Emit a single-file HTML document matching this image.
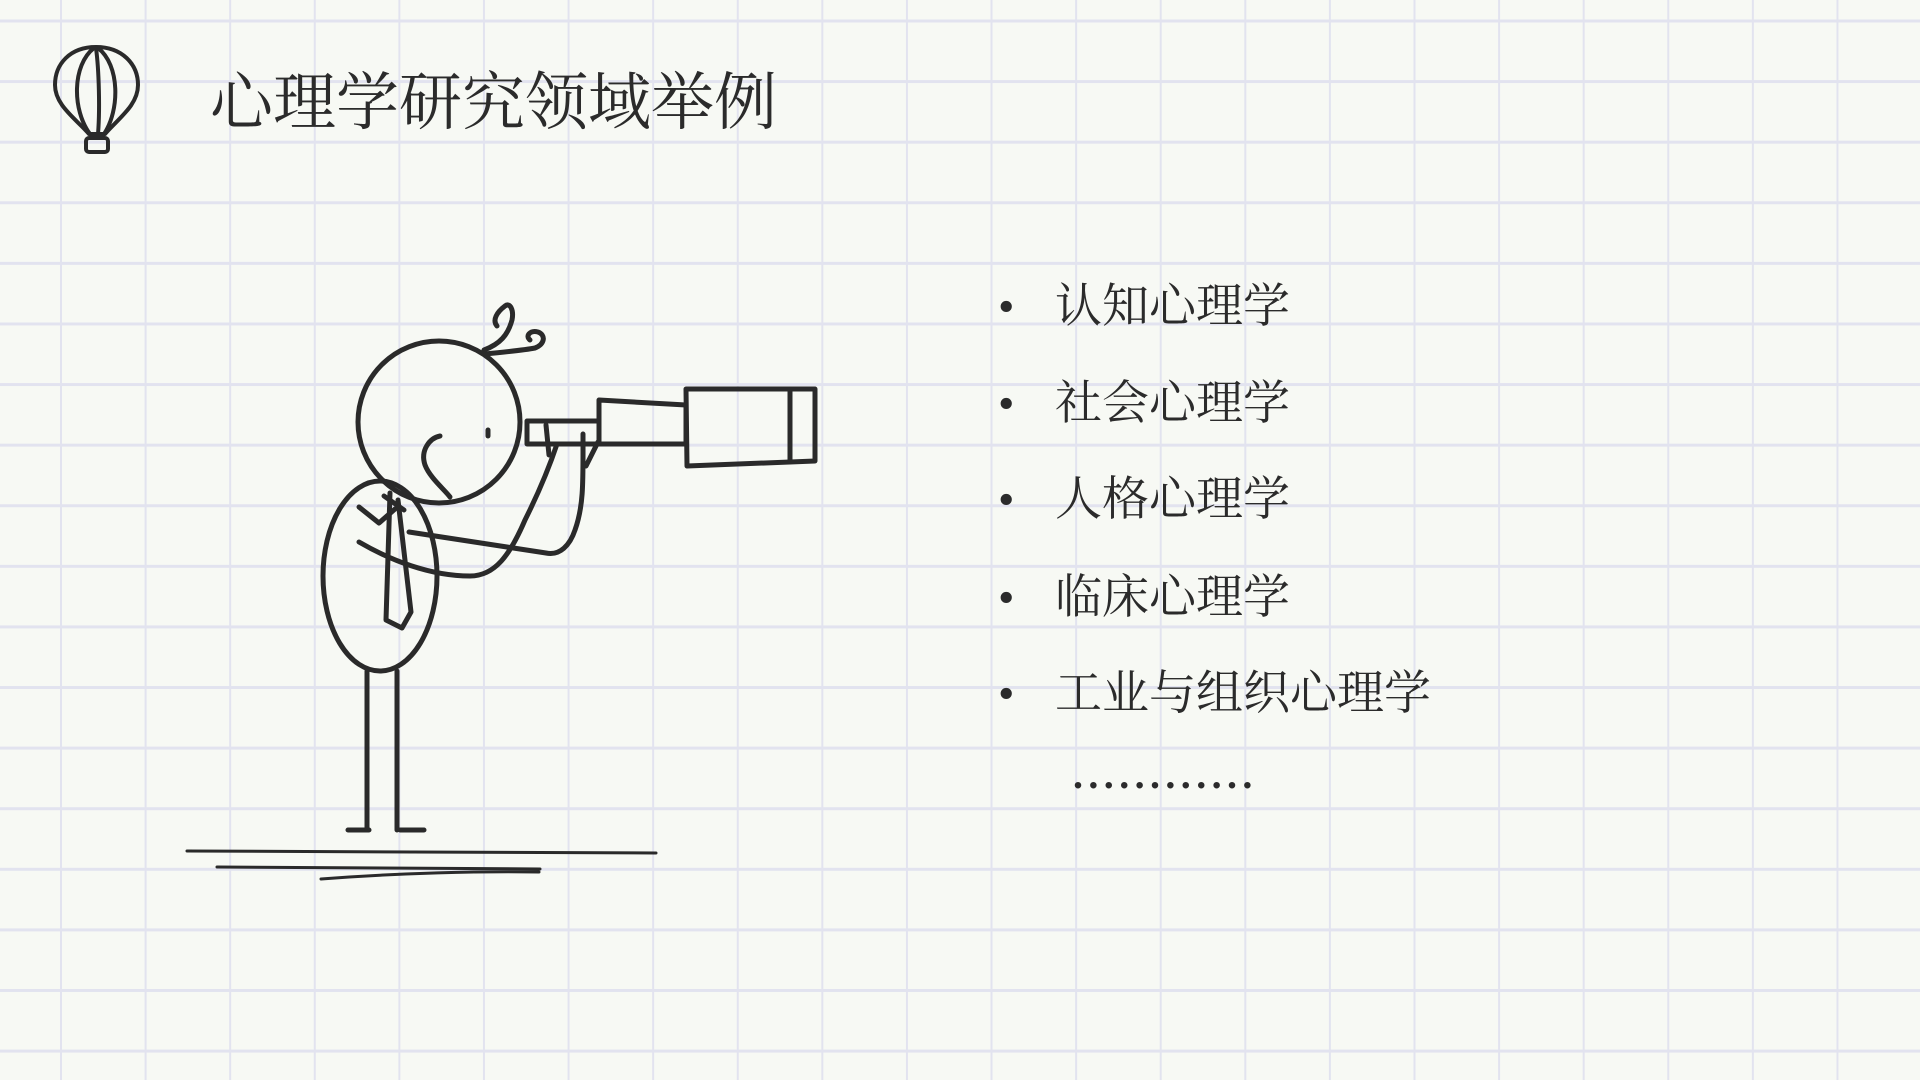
<!DOCTYPE html>
<html><head><meta charset="utf-8"><style>
html,body{margin:0;padding:0}
body{width:1920px;height:1080px;position:relative;overflow:hidden;background-color:#f7f9f4;
background-image:linear-gradient(to right,#e2e3ef 2px,transparent 2px),linear-gradient(to bottom,#e2e3ef 3px,transparent 3px);
background-size:84.6px 60.6px;background-position:60px 19.5px;}
.t{position:absolute;font-family:"Liberation Serif","Noto Serif CJK SC",serif;color:#2b2b2b;white-space:nowrap}
.b{font-size:47px;line-height:58px}
</style></head><body>
<div class="t" style="left:210px;top:64px;font-size:63px;line-height:78px">心理学研究领域举例</div>
<div class="t b" style="left:998px;top:278px">•</div>
<div class="t b" style="left:1055px;top:278px">认知心理学</div>
<div class="t b" style="left:998px;top:375px">•</div>
<div class="t b" style="left:1055px;top:375px">社会心理学</div>
<div class="t b" style="left:998px;top:471px">•</div>
<div class="t b" style="left:1055px;top:471px">人格心理学</div>
<div class="t b" style="left:998px;top:569px">•</div>
<div class="t b" style="left:1055px;top:569px">临床心理学</div>
<div class="t b" style="left:998px;top:665px">•</div>
<div class="t b" style="left:1055px;top:665px">工业与组织心理学</div>
<div class="t" style="left:1073px;top:750px;font-size:40px;line-height:50px;letter-spacing:5.4px;font-weight:bold">............</div>
<svg width="1920" height="1080" style="position:absolute;left:0;top:0" fill="none" stroke="#2a2a2a" stroke-width="5" stroke-linecap="round" stroke-linejoin="round">
<g stroke-width="4">
<path d="M96 47 C70 47 55 64 55 85 C55 105 75 118 89 134 L105 134 C119 118 138 105 138 85 C138 64 122 47 96 47 Z"/>
<path d="M94 48 C72 65 72 110 90 134"/>
<path d="M98 48 C120 65 120 110 104 134"/>
<path d="M96 48 C99 70 100 110 98 134"/>
<rect x="86" y="138" width="22" height="14" rx="3"/>
<path d="M92 134 V138 M102 134 V138"/>
</g>
<ellipse cx="439" cy="422" rx="81" ry="81"/>
<path d="M484 350 C500 344 508 335 512 320 C514 310 510 302 505 306 C497 312 492 320 497 326"/>
<path d="M484 354 C505 352 525 350 535 348 C545 344 546 335 538 332 C530 330 525 336 530 340"/>
<path d="M488 430 V436"/>
<path d="M440 436 C430 438 420 450 425 465 C430 478 445 490 450 497"/>
<rect x="527" y="421" width="72" height="23"/>
<path d="M599 400 L686 405 L686 444 L599 444 Z"/>
<path d="M686 389 L815 389 L815 461 L687 466 Z"/>
<path d="M790 389 V462"/>
<path d="M409 532 L546 553 C560 556 570 545 575 530 C584 505 583 480 583 434"/>
<path d="M359 542 C390 560 430 576 470 576 C495 576 510 555 525 520 C540 490 550 465 557 444"/>
<path d="M546 425 L549 455"/>
<path d="M598 442 L586 466"/>
<ellipse cx="380" cy="576" rx="57" ry="95"/>
<path d="M359 507 L379 523 L395 509"/>
<path d="M384 496 L404 510"/>
<path d="M390 493 L386 620 L402 628 L411 612 L398 500"/>
<path d="M367 671 V830 M397 671 V830"/>
<path d="M348 830 H369 M400 830 H424"/>
<g stroke-width="3">
<path d="M187 851 L656 853"/>
<path d="M217 867 L540 869"/>
<path d="M321 879 C400 873 480 871 539 872"/>
</g>
</svg>
</body></html>
